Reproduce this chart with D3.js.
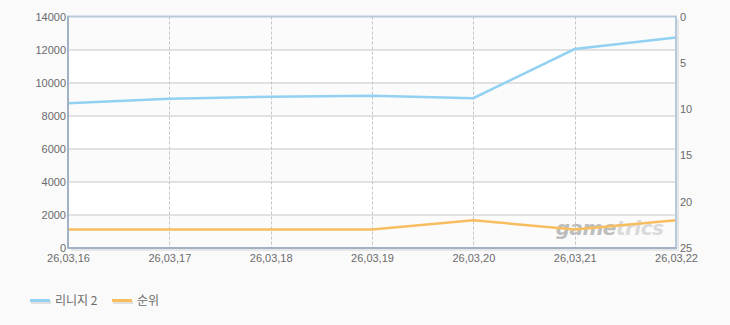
<!DOCTYPE html>
<html>
<head>
<meta charset="utf-8">
<script src="https://cdn.jsdelivr.net/npm/d3@7"></script>
<style>
  body { margin: 0; background: #fafafa; }
  text { font-family: "Liberation Sans", "Noto Sans CJK KR", sans-serif; }
</style>
</head>
<body>
<div id="chart"></div>
<script>
// data
const dates = ["26,03,16", "26,03,17", "26,03,18", "26,03,19", "26,03,20", "26,03,21", "26,03,22"]
const lineageValues = [8750, 9030, 9150, 9200, 9060, 12030, 12730]
const rankValues = [23, 23, 23, 23, 22, 23, 22]
const leftTicks = [0, 2000, 4000, 6000, 8000, 10000, 12000, 14000]
const rightTicks = [0, 5, 10, 15, 20, 25]
const seriesNames = ["리니지 2", "순위"]
const seriesColors = ["#92d1f1", "#f8bd5e"]

function drawChart() {
  const dimensions = {
    width: 730,
    height: 325,
    margin: { top: 16.5, right: 54, bottom: 77, left: 68 },
  }
  dimensions.boundedWidth = dimensions.width - dimensions.margin.left - dimensions.margin.right
  dimensions.boundedHeight = dimensions.height - dimensions.margin.top - dimensions.margin.bottom

  const wrapper = d3.select("#chart").append("svg")
    .attr("width", dimensions.width)
    .attr("height", dimensions.height)
    .style("display", "block")

  wrapper.append("rect")
    .attr("width", dimensions.width).attr("height", dimensions.height)
    .attr("fill", "#fafafa")

  const bounds = wrapper.append("g")
    .attr("transform", `translate(${dimensions.margin.left},${dimensions.margin.top})`)

  // scales
  const xScale = d3.scalePoint()
    .domain(dates)
    .range([0, dimensions.boundedWidth])

  const yLeft = d3.scaleLinear()
    .domain([0, 14000])
    .range([dimensions.boundedHeight, 0])

  const yRight = d3.scaleLinear()
    .domain([0, 25])
    .range([0, dimensions.boundedHeight])

  // shadow of plot box
  bounds.append("rect")
    .attr("x", 3).attr("y", 3)
    .attr("width", dimensions.boundedWidth).attr("height", dimensions.boundedHeight)
    .attr("fill", "#e6e6e6")

  // alternating bands
  bounds.append("g").selectAll("rect")
    .data(d3.pairs(leftTicks))
    .join("rect")
      .attr("x", 0)
      .attr("y", d => yLeft(d[1]))
      .attr("width", dimensions.boundedWidth)
      .attr("height", d => yLeft(d[0]) - yLeft(d[1]))
      .attr("fill", (d, i) => i % 2 === 0 ? "#fbfbfb" : "#ffffff")

  // horizontal gridlines
  bounds.append("g").selectAll("line")
    .data(leftTicks.slice(1, -1))
    .join("line")
      .attr("x1", 0).attr("x2", dimensions.boundedWidth)
      .attr("y1", d => Math.round(yLeft(d)) + 0.5)
      .attr("y2", d => Math.round(yLeft(d)) + 0.5)
      .attr("stroke", "#c8c8c8")

  // vertical dashed gridlines
  bounds.append("g").selectAll("line")
    .data(dates.slice(1, -1))
    .join("line")
      .attr("x1", d => Math.round(xScale(d)) + 0.5)
      .attr("x2", d => Math.round(xScale(d)) + 0.5)
      .attr("y1", 0).attr("y2", dimensions.boundedHeight)
      .attr("stroke", "#c4c4c4")
      .attr("stroke-dasharray", "3,2")

  // lines
  const lineLeft = d3.line()
    .x((d, i) => xScale(dates[i]))
    .y(d => yLeft(d))
  const lineRight = d3.line()
    .x((d, i) => xScale(dates[i]))
    .y(d => yRight(d))

  bounds.append("path")
    .datum(lineageValues)
    .attr("d", lineLeft)
    .attr("fill", "none")
    .attr("stroke", seriesColors[0])
    .attr("stroke-width", 2.5)

  // watermark
  const wm = bounds.append("text")
    .attr("x", xScale(dates[5]) - 19)
    .attr("y", yRight(23.6))
    .attr("font-size", 20)
    .attr("font-weight", "bold")
    .attr("font-style", "italic")
    .attr("letter-spacing", -0.5)
    .style("font-family", "DejaVu Sans, sans-serif")
  wm.append("tspan").attr("fill", "#bdbdbd").text("game")
  wm.append("tspan").attr("fill", "#dadada").text("trics")

  bounds.append("path")
    .datum(rankValues)
    .attr("d", lineRight)
    .attr("fill", "none")
    .attr("stroke", seriesColors[1])
    .attr("stroke-width", 2.5)

  // border
  bounds.append("rect")
    .attr("width", dimensions.boundedWidth).attr("height", dimensions.boundedHeight)
    .attr("fill", "none")
    .attr("stroke", "#b7c9dc")
    .attr("stroke-width", 2)
  bounds.append("line")
    .attr("x1", 0).attr("x2", 0).attr("y1", 0).attr("y2", dimensions.boundedHeight)
    .attr("stroke", "#a2b1c3").attr("stroke-width", 2)
  bounds.append("line")
    .attr("x1", 0).attr("x2", dimensions.boundedWidth)
    .attr("y1", dimensions.boundedHeight).attr("y2", dimensions.boundedHeight)
    .attr("stroke", "#a2b1c3").attr("stroke-width", 2)

  // axes
  const leftAxis = bounds.append("g")
    .call(d3.axisLeft(yLeft).tickValues(leftTicks).tickSize(0).tickPadding(2).tickFormat(d3.format("d")))
  const rightAxis = bounds.append("g")
    .attr("transform", `translate(${dimensions.boundedWidth},0)`)
    .call(d3.axisRight(yRight).tickValues(rightTicks).tickSize(0).tickPadding(4))
  const xAxis = bounds.append("g")
    .attr("transform", `translate(0,${dimensions.boundedHeight})`)
    .call(d3.axisBottom(xScale).tickSize(0).tickPadding(6))

  ;[leftAxis, rightAxis, xAxis].forEach(ax => {
    ax.select(".domain").remove()
    ax.selectAll("text")
      .attr("fill", "#6b6b6b")
      .style("font-size", "11px")
      .style("font-family", "Liberation Sans, sans-serif")
  })

  // legend
  const legend = wrapper.append("g")
    .attr("transform", "translate(30,301)")
  const items = legend.selectAll("g")
    .data(seriesNames)
    .join("g")
      .attr("transform", (d, i) => `translate(${i * 82},0)`)
  items.append("rect")
    .attr("x", 1).attr("y", 0).attr("width", 20).attr("height", 3)
    .attr("fill", "#e0e0e0")
  items.append("rect")
    .attr("x", 0).attr("y", -2).attr("width", 20).attr("height", 3)
    .attr("fill", (d, i) => seriesColors[i])
  items.append("text")
    .attr("x", 25).attr("y", 0)
    .attr("dy", "0.35em")
    .attr("fill", "#6b6b6b")
    .style("font-size", "12px")
    .style("font-family", "Noto Sans CJK KR, sans-serif")
    .text(d => d)
}

drawChart()
</script>
</body>
</html>
